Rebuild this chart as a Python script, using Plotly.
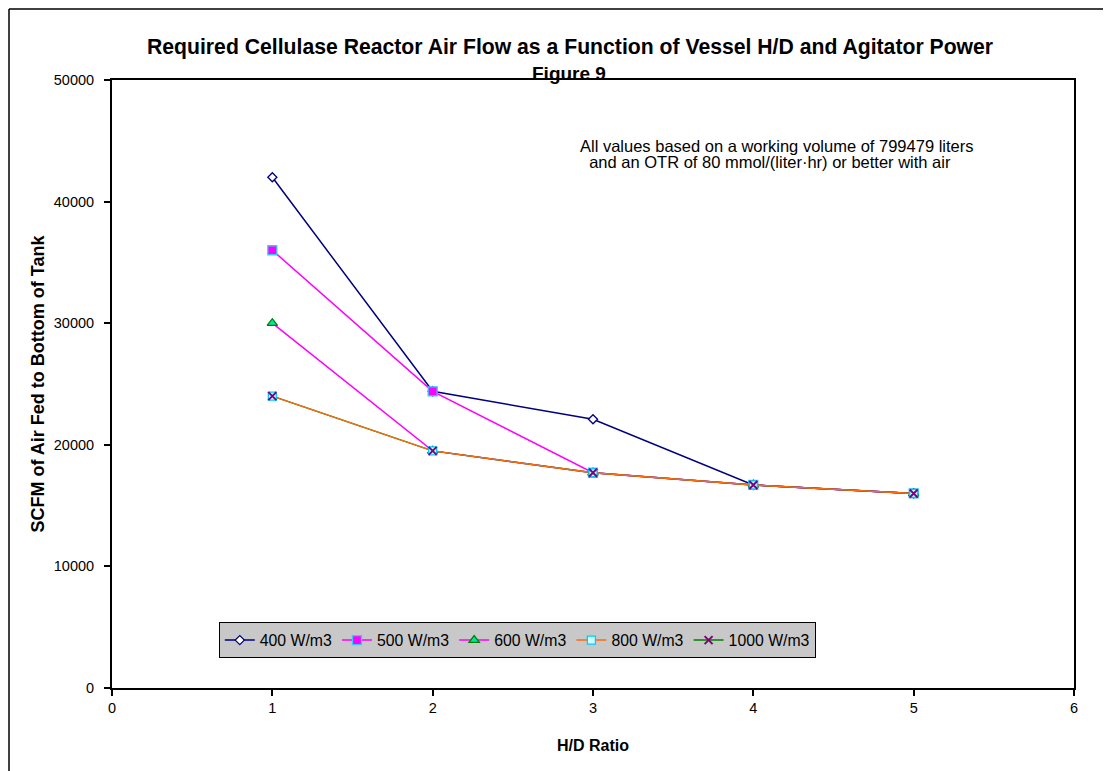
import plotly.graph_objects as go

FONT = "Liberation Sans, Arial, sans-serif"

hd_ratio = [1, 2, 3, 4, 5]
series_names = ["400 W/m3", "500 W/m3", "600 W/m3", "800 W/m3", "1000 W/m3"]
air_400 = [42000, 24400, 22100, 16700, 16000]
air_500 = [36000, 24400, 17700, 16700, 16000]
air_600 = [30000, 19500, 17700, 16700, 16000]
air_800 = [24000, 19500, 17700, 16700, 16000]
air_1000 = [24000, 19500, 17700, 16700, 16000]

values = {
    "400 W/m3": air_400, "500 W/m3": air_500, "600 W/m3": air_600,
    "800 W/m3": air_800, "1000 W/m3": air_1000,
}
# line colour, marker symbol, marker fill, marker outline, marker size
styles = {
    "400 W/m3": ("#000080", "diamond", "white", "#000080", 7),
    "500 W/m3": ("#ff00ff", "square", "#ff00ff", "#33ccff", 9),
    "600 W/m3": ("#ff00ff", "triangle-up", "#00e6a0", "#008000", 9),
    "800 W/m3": ("#ff6a13", "square", "#ccffff", "#00ccff", 8),
    "1000 W/m3": ("#008000", "x-thin", "#800080", "#800080", 8),
}


def marker_for(name):
    lc, sym, fill, edge, size = styles[name]
    if sym == "x-thin":
        return dict(symbol=sym, size=size, line=dict(color=edge, width=2))
    return dict(symbol=sym, size=size, color=fill, line=dict(color=edge, width=1.3))


# orange line sits over the green one, but the 1000 X markers sit on top
draw_order = ["400 W/m3", "500 W/m3", "600 W/m3", "1000 W/m3", "800 W/m3"]

fig = go.Figure()
for name in draw_order:
    fig.add_trace(go.Scatter(
        x=hd_ratio, y=values[name], name=name, mode="lines+markers",
        line=dict(color=styles[name][0], width=1.5), marker=marker_for(name),
        legendrank=series_names.index(name) + 1,
    ))
fig.add_trace(go.Scatter(
    x=hd_ratio, y=air_1000, mode="markers", showlegend=False, hoverinfo="skip",
    marker=marker_for("1000 W/m3"),
))

# page has an 8px body margin, so the plot box is set 8px up/left
ML, MR, MT, MB = 104, 45, 72, 91
PW, PH = 1111 - ML - MR, 771 - MT - MB

fig.update_layout(
    width=1111, height=771,
    margin=dict(l=ML, r=MR, t=MT, b=MB),
    paper_bgcolor="white", plot_bgcolor="white",
    font=dict(family=FONT, color="black", size=14),
    xaxis=dict(
        range=[0, 6], dtick=1, tick0=0, showgrid=False, zeroline=False,
        showline=True, linecolor="black", linewidth=2, mirror=True,
        ticks="outside", ticklen=6, tickcolor="black", tickwidth=2,
        tickfont=dict(size=14.5), automargin=False,
        title=dict(text="<b>H/D Ratio</b>", font=dict(size=16), standoff=24),
    ),
    yaxis=dict(
        range=[0, 50000], dtick=10000, tickformat="d", showgrid=False, zeroline=False,
        showline=True, linecolor="black", linewidth=2, mirror=True,
        ticks="outside", ticklen=6, tickcolor="black", tickwidth=2,
        tickfont=dict(size=14.5), ticklabelstandoff=7, automargin=False,
        title=dict(text="<b>SCFM of Air Fed to Bottom of Tank</b>", font=dict(size=18), standoff=4),
    ),
    legend=dict(
        orientation="h", x=0.111, y=0.108, xanchor="left", yanchor="top",
        bgcolor="#c8c8c8", bordercolor="black", borderwidth=1,
        font=dict(size=15.8), itemwidth=30,
    ),
    showlegend=True,
)

# two-line title
fig.add_annotation(
    text="<b>Required Cellulase Reactor Air Flow as a Function of Vessel H/D and Agitator Power</b>",
    xref="paper", yref="paper", x=(570 - 112) / PW, y=(688 - 47) / PH,
    xanchor="center", yanchor="middle", showarrow=False, font=dict(size=21.2),
)
fig.add_annotation(
    text="<b>Figure 9</b>",
    xref="paper", yref="paper", x=(569 - 112) / PW, y=(688 - 74) / PH,
    xanchor="center", yanchor="middle", showarrow=False, font=dict(size=19),
)

fig.add_annotation(
    text="All values based on a working volume of 799479 liters",
    xref="paper", yref="paper", x=(578 - 112) / PW, y=(688 - 146) / PH,
    xanchor="left", yanchor="middle", showarrow=False, font=dict(size=16.5),
)
fig.add_annotation(
    text="  and an OTR of 80 mmol/(liter·hr) or better with air",
    xref="paper", yref="paper", x=(578 - 112) / PW, y=(688 - 162) / PH,
    xanchor="left", yanchor="middle", showarrow=False, font=dict(size=16.5),
)

# outer chart border (left and top edges visible), at the edge of the figure
bx = (1 - ML) / PW
by = (PH + MT - 1) / PH
fig.add_shape(type="line", xref="paper", yref="paper",
              x0=bx, x1=bx, y0=-0.2, y1=by,
              line=dict(color="black", width=1.5))
fig.add_shape(type="line", xref="paper", yref="paper",
              x0=bx, x1=1.05, y0=by, y1=by,
              line=dict(color="black", width=1.5))

fig.write_html("out.html")
